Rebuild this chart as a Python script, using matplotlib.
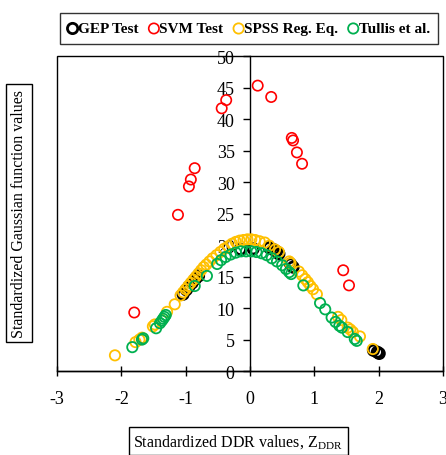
import matplotlib.pyplot as plt
from matplotlib.patches import Rectangle

plt.rcParams['font.family'] = ['Liberation Serif', 'DejaVu Serif']
plt.rcParams['mathtext.fontset'] = 'custom'
plt.rcParams['mathtext.rm'] = 'Liberation Serif'
plt.rcParams['axes.unicode_minus'] = False

# GEP test
gep_x = [-1.04, -0.99, -0.95, -0.90, -0.85, -0.80,
         -0.15, 0.05, 0.30, 0.36, 0.41, 0.45, 0.63, 0.67, 1.92, 1.98, 2.01]
gep_y = [12.2, 12.9, 13.4, 14.0, 14.6, 15.1,
         19.3, 19.4, 19.6, 19.3, 19.0, 18.6, 17.0, 16.5, 3.3, 3.0, 2.8]

# SVM test
svm_x = [-1.80, -1.12, -0.95, -0.92, -0.86, -0.44, -0.37, 0.12, 0.33,
         0.65, 0.67, 0.73, 0.81, 1.45, 1.54]
svm_y = [9.3, 24.8, 29.3, 30.4, 32.2, 41.7, 43.0, 45.3, 43.5,
         37.0, 36.6, 34.7, 32.9, 16.0, 13.6]

# SPSS regression equation
spss_x = [-2.10, -1.78, -1.72, -1.68, -1.51, -1.48, -1.29, -1.17, -1.08, -1.04,
          -1.00, -0.96, -0.92, -0.88, -0.84, -0.80, -0.76, -0.72, -0.68, -0.63,
          -0.58, -0.52, -0.46, -0.40, -0.34, -0.28, -0.22, -0.16, -0.10, -0.04,
          0.02, 0.08, 0.15, 0.23, 0.30, 0.39, 0.45, 0.61, 0.63, 0.76,
          0.81, 0.86, 0.90, 0.94, 0.98, 1.04, 1.37, 1.42, 1.52, 1.56,
          1.60, 1.71, 1.91]
spss_y = [2.5, 4.6, 5.0, 5.3, 7.1, 7.4, 9.4, 10.6, 12.0, 12.5,
          13.0, 13.5, 14.0, 14.5, 15.0, 15.5, 16.0, 16.5, 16.9, 17.4,
          17.9, 18.4, 18.9, 19.4, 19.8, 20.2, 20.5, 20.7, 20.8, 20.9,
          20.9, 20.8, 20.6, 20.4, 19.9, 19.3, 18.9, 17.4, 17.1, 15.8,
          15.2, 14.6, 14.1, 13.5, 13.0, 12.2, 8.6, 8.1, 6.9, 6.6,
          6.2, 5.5, 3.5]

# Tullis et al.
tullis_x = [-1.83, -1.68, -1.66, -1.46, -1.40, -1.37, -1.35, -1.33, -1.31, -0.86,
            -0.67, -0.51, -0.45, -0.38, -0.30, -0.22, -0.14, -0.06, 0.02, 0.10,
            0.18, 0.26, 0.34, 0.42, 0.50, 0.56, 0.61, 0.64, 0.83, 1.09,
            1.17, 1.27, 1.33, 1.39, 1.43, 1.52, 1.63, 1.66]
tullis_y = [3.8, 5.0, 5.2, 6.8, 7.6, 8.0, 8.3, 8.6, 8.9, 13.5,
            15.1, 17.0, 17.6, 18.1, 18.5, 18.8, 19.0, 19.0, 19.0, 18.9,
            18.7, 18.4, 17.9, 17.4, 16.8, 16.2, 15.7, 15.4, 13.6, 10.8,
            9.8, 8.5, 7.8, 7.2, 6.9, 6.2, 5.1, 4.8]

fig = plt.figure(figsize=(4.46, 4.56), dpi=100)
ax = fig.add_axes([0.128, 0.184, 0.865, 0.691])

ms = 55
ax.scatter(gep_x, gep_y, s=ms, facecolors='none', edgecolors='black',
           linewidths=2.0, label='GEP Test', zorder=3)
ax.scatter(svm_x, svm_y, s=ms, facecolors='none', edgecolors='#FF0000',
           linewidths=1.2, label='SVM Test', zorder=3)
ax.scatter(spss_x, spss_y, s=ms, facecolors='none', edgecolors='#FFC000',
           linewidths=1.3, label='SPSS Reg. Eq.', zorder=3)
ax.scatter(tullis_x, tullis_y, s=ms, facecolors='none', edgecolors='#00B050',
           linewidths=1.3, label='Tullis et al.', zorder=3)

ax.set_xlim(-3, 3)
ax.set_ylim(0, 50)
ax.set_xticks([-3, -2, -1, 0, 1, 2, 3])
ax.set_yticks(range(0, 51, 5))

ax.spines['left'].set_position(('data', 0))
ax.spines['top'].set_visible(False)
ax.spines['right'].set_visible(False)
for s in ['left', 'bottom']:
    ax.spines[s].set_linewidth(1.0)
ax.add_patch(Rectangle((0, 0), 1, 1, transform=ax.transAxes, fill=False,
                       edgecolor='black', linewidth=1.0, clip_on=False, zorder=4))

ax.tick_params(axis='x', direction='inout', length=7, width=1, pad=10, labelsize=13)
ax.tick_params(axis='y', direction='out', length=5, width=1, pad=6, labelsize=13)

box = dict(boxstyle='square,pad=0.3', fc='white', ec='black', lw=1)
fig.text(0.534, 0.030, 'Standardized DDR values, Z$_{\\mathrm{DDR}}$',
         fontsize=11.5, ha='center', va='center', bbox=box)
fig.text(0.043, 0.531, 'Standardized Gaussian function values', rotation=90,
         fontsize=11.5, ha='center', va='center', bbox=box)

leg = fig.legend(loc='center', bbox_to_anchor=(0.558, 0.935), ncol=4,
                 frameon=True, fancybox=False, edgecolor='black',
                 handlelength=0.6, handletextpad=0.05, columnspacing=0.7,
                 borderpad=0.55, prop={'weight': 'bold', 'size': 11})
leg.get_frame().set_linewidth(1.0)

fig.savefig('out.png', dpi=100)
